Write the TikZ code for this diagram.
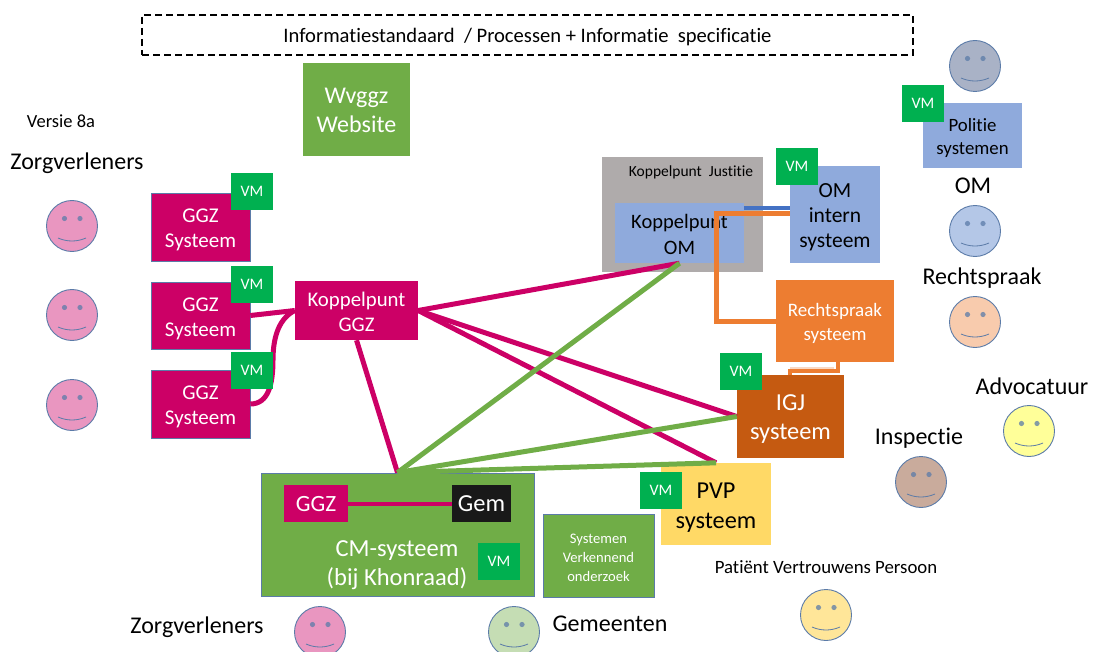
\documentclass[tikz,border=0pt]{standalone}
\usepackage{fontspec}
\setmainfont[Ligatures=NoCommon]{Carlito}
\usetikzlibrary{calc}
\definecolor{mag}{HTML}{CC0066}
\definecolor{grn}{HTML}{70AD47}
\definecolor{vmg}{HTML}{00B050}
\definecolor{blu}{HTML}{8FAADC}
\definecolor{org}{HTML}{ED7D31}
\definecolor{dorg}{HTML}{C55A11}
\definecolor{ylw}{HTML}{FFD966}
\definecolor{gry}{HTML}{AFABAB}
\definecolor{edge}{HTML}{5B7BA8}
\definecolor{line}{HTML}{4472C4}
\definecolor{sPink}{HTML}{E996C0}
\definecolor{sGrey}{HTML}{A9B2C6}
\definecolor{sBlue}{HTML}{B4C7E7}
\definecolor{sPeach}{HTML}{F8CBAD}
\definecolor{sYel}{HTML}{FFFF99}
\definecolor{sBrown}{HTML}{C9AB9C}
\definecolor{sLYel}{HTML}{FFE699}
\definecolor{sGreen}{HTML}{C5DDB4}
\newcommand{\bx}[7]{%
  \pgfmathsetmacro{\bw}{#4-#2}\pgfmathsetmacro{\bh}{#5-#3}%
  \node[boxbase,#6,minimum width=\bw pt,minimum height=\bh pt] (#1) at ({(#2+#4)/2},{(#3+#5)/2}) {\raisebox{-3pt}[\height][\depth]{\begin{tabular}{@{}c@{}}#7\end{tabular}}};}
\newcommand{\vm}[3]{\node[vmbox] (#1) at ({#2+21},{#3+18.5}) {VM};}
\newcommand{\smly}[4]{%
  \node[smile,fill=#4] (#1) at (#2,#3) {};
  \fill[edge!75!#4] ($(#1.center)+(-7.5,-7.5)$) circle (2.6);
  \fill[edge!75!#4] ($(#1.center)+(8,-7.5)$) circle (2.6);
  \draw[edge,line width=.8pt] ($(#1.center)+(-14,12)$) .. controls ($(#1.center)+(-5,16)$) and ($(#1.center)+(5,16)$) .. ($(#1.center)+(14,12)$);}
\tikzset{
  boxbase/.style={inner sep=0pt,font=\fontsize{21}{25}\selectfont},
  wt/.style={text=white},
  pinkbox/.style={fill=mag,draw=edge,line width=.7pt,wt},
  vmbox/.style={fill=vmg,text=white,inner sep=0pt,minimum width=42pt,minimum height=37pt,font=\fontsize{16}{18}\selectfont},
  smile/.style={circle,draw=edge,line width=.9pt,minimum size=51pt,inner sep=0pt},
  lab/.style={inner sep=0pt,text=black,font=\fontsize{24}{28}\selectfont},
  mline/.style={draw=mag,line width=5pt},
  gline/.style={draw=grn,line width=5pt},
  oline/.style={draw=org,line width=5pt},
}
\begin{document}
\begin{tikzpicture}[x=1pt,y=-1pt]
\useasboundingbox (0,0) rectangle (1094,652);
\bx{std}{142}{15}{913}{55}{draw=black,dash pattern=on 7pt off 4pt,line width=1.3pt,font=\fontsize{20.6}{24}\selectfont}{Informatiestandaard~ / Processen + Informatie~ specificatie}
\bx{wv}{303}{63}{410}{156}{fill=grn,wt,font=\fontsize{24}{29}\selectfont}{Wvggz\\Website}
\node[lab,font=\fontsize{18.5}{20}\selectfont] (versie) at (61,121) {Versie 8a};
\node[lab] (zv1) at (77,163) {Zorgverleners};
\smly{s1}{72}{226}{sPink}
\smly{s2}{72}{315}{sPink}
\smly{s3}{72}{405}{sPink}
\bx{g1}{151}{193}{250}{261}{pinkbox}{GGZ\\Systeem}
\bx{g2}{151}{282}{250}{349}{pinkbox}{GGZ\\Systeem}
\bx{g3}{151}{370}{250}{438}{pinkbox}{GGZ\\Systeem}
\bx{kg}{295}{281}{418}{340}{fill=mag,wt,font=\fontsize{20.8}{25}\selectfont}{Koppelpunt\\GGZ}
\bx{kj}{602}{157}{763}{272}{fill=gry}{}
\node[lab,font=\fontsize{15.5}{18}\selectfont] (kjt) at (691,172) {Koppelpunt~ Justitie};
\bx{kom}{615}{203}{744}{263}{fill=blu,text=black,font=\fontsize{20.5}{26}\selectfont}{Koppelpunt\\OM}
\bx{omi}{790}{166}{880}{263}{fill=blu,text=black,font=\fontsize{21.5}{25}\selectfont}{OM\\intern\\systeem}
\bx{rs}{776}{280}{894}{362}{fill=org,wt,font=\fontsize{19}{24}\selectfont}{Rechtspraak\\systeem}
\bx{igj}{737}{375}{844}{458}{fill=dorg,wt,font=\fontsize{24.4}{29}\selectfont}{IGJ\\systeem}
\bx{pvp}{661}{463}{771}{545}{fill=ylw,text=black,font=\fontsize{24.3}{30}\selectfont}{PVP\\systeem}
\bx{cm}{261}{473}{534}{596}{fill=grn,draw=edge,line width=.9pt}{}
\node[inner sep=0pt,text=white,align=center,font=\fontsize{24.5}{29}\selectfont] (cmt) at (397,565) {CM-systeem\\(bij Khonraad)};
\bx{gi}{284}{485}{348}{522}{fill=mag,wt,font=\fontsize{23.3}{26}\selectfont}{GGZ}
\bx{gem}{452}{485}{511}{522}{fill=black!90,wt,font=\fontsize{24.5}{26}\selectfont}{Gem}
\bx{sv}{543}{514}{654}{597}{fill=grn,draw=edge,line width=.9pt,wt,font=\fontsize{14.6}{19}\selectfont}{Systemen\\Verkennend\\onderzoek}
\bx{pol}{923}{103}{1022}{168}{fill=blu,text=black,font=\fontsize{18.8}{23}\selectfont}{Politie\\systemen}
% connectors
\draw[mline] (g2.east) -- (kg.west);
\draw[mline] (g3.east) .. controls (268,404) and (273,385) .. (273,360) .. controls (273,335) and (280,318) .. (kg.west);
\draw[mline] (kg.east) -- (kom.south);
\draw[mline] (kg.east) -- (igj.west);
\draw[mline] (kg.east) -- (pvp.north);
\draw[mline] (kg.south) -- (cm.north);
\draw[gline] (cm.north) -- (kom.south);
\draw[gline] (cm.north) -- (igj.west);
\draw[gline] (cm.north) -- (pvp.north);
\draw[mline,line width=4pt] (gi.east) -- (gem.west);
\coordinate (oc0) at (744,208);
\draw[draw=line,line width=4.5pt] (oc0) -- (omi.west |- oc0);
\coordinate (oc1) at (716,214);
\draw[oline] (omi.west |- oc1) -- (oc1) -- (oc1 |- rs.west) -- (rs.west);
\coordinate (oc2) at (838,371);
\coordinate (oc3) at (790,371);
\draw[oline,line width=4pt] (oc2 |- rs.south) -- (oc2) -- (oc3) -- (oc3 |- igj.north);
\draw[draw=white!70!org,line width=1.2pt] (834,368) -- (790,368);
% tags
\vm{v1}{231}{173}
\vm{v2}{231}{266}
\vm{v3}{231}{352}
\vm{v4}{776}{148}
\vm{v5}{720}{353}
\vm{v6}{640}{472}
\vm{v7}{478}{543}
\vm{v8}{902}{85}
% right side
\smly{s4}{975}{66}{sGrey}
\smly{s5}{975}{231}{sBlue}
\smly{s6}{975}{322}{sPeach}
\smly{s7}{1029}{431}{sYel}
\smly{s8}{921}{482}{sBrown}
\smly{s9}{826}{615}{sLYel}
\smly{s10}{320}{632}{sPink}
\smly{s11}{514}{632}{sGreen}
\node[lab] (lom) at (973,186) {OM};
\node[lab] (lrs) at (982,278) {Rechtspraak};
\node[lab] (ladv) at (1032,386) {Advocatuur};
\node[lab] (lin) at (919,438) {Inspectie};
\node[lab,font=\fontsize{18.8}{20}\selectfont] (lpvp) at (826,567) {Patiënt Vertrouwens Persoon};
\node[lab] (lz2) at (197,627) {Zorgverleners};
\node[lab] (lge) at (610,624) {Gemeenten};
\end{tikzpicture}
\end{document}
